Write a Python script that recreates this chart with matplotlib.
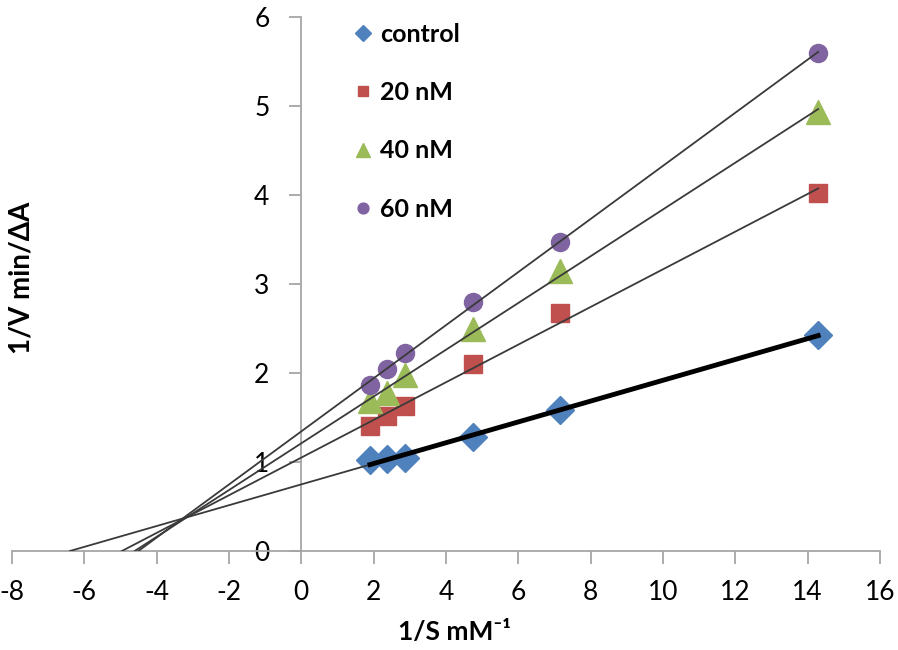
import numpy as np
import matplotlib.pyplot as plt

plt.rcParams['font.family'] = ['Lato', 'DejaVu Sans']
plt.rcParams['axes.unicode_minus'] = False

# 1/S values (mM^-1) and 1/V values (min/dA) per inhibitor level
inv_s = [1.9, 2.38, 2.86, 4.76, 7.14, 14.29]
control = [1.02, 1.03, 1.05, 1.28, 1.58, 2.43]
nm20 = [1.41, 1.52, 1.63, 2.10, 2.67, 4.02]
nm40 = [1.68, 1.78, 1.98, 2.50, 3.15, 4.93]
nm60 = [1.87, 2.05, 2.22, 2.80, 3.47, 5.60]

labels = ['control', '20 nM', '40 nM', '60 nM']
colors = ['#4F81BD', '#C0504D', '#9BBB59', '#8064A2']
markers = ['D', 's', '^', 'o']
sizes = [14, 13, 17, 13]

fig = plt.figure(figsize=(8.98, 6.5), dpi=100)
ax = fig.add_axes([12 / 898, 1 - 551 / 650, 868 / 898, 534 / 650])

x = np.array(inv_s)
for i, ys in enumerate([control, nm20, nm40, nm60]):
    # linear trendline extended back to the x axis
    k, b = np.polyfit(x, ys, 1)
    x0 = -b / k
    ax.plot([x0, x[-1]], [0, k * x[-1] + b], color='#3a3a3a', lw=1.3, zorder=4)
    if i == 0:
        ax.plot([x[0], x[-1]], [k * x[0] + b, k * x[-1] + b], color='black', lw=3.5, zorder=4)
    ax.plot(x, ys, linestyle='none', marker=markers[i], ms=sizes[i], color=colors[i],
            markeredgecolor=colors[i], label=labels[i], zorder=3, clip_on=False)

ax.set_xlim(-8, 16)
ax.set_ylim(0, 6)
ax.spines['left'].set_position(('data', 0))
ax.spines['bottom'].set_position(('data', 0))
ax.spines['right'].set_visible(False)
ax.spines['top'].set_visible(False)
for s in ['left', 'bottom']:
    ax.spines[s].set_color('#a6a6a6')
    ax.spines[s].set_linewidth(1.3)
ax.set_xticks(np.arange(-8, 17, 2))
ax.set_yticks(np.arange(0, 7, 1))
ax.tick_params(direction='out', length=9, width=1.3, color='#a6a6a6', labelsize=19, pad=12)
ax.tick_params(axis='y', pad=14)
ax.patch.set_alpha(0)

fig.text(454 / 898, 1 - 632 / 650, '1/S mM⁻¹', ha='center', va='center',
         fontsize=19, fontweight='bold')
fig.text(22 / 898, 1 - 278 / 650, '1/V min/ΔA', ha='center', va='center', rotation=90,
         fontsize=20, fontweight='bold')

leg = ax.legend(loc='upper left', bbox_to_anchor=(336 / 898 - 12 / 898, 1 + 17 / 534),
                frameon=False, markerscale=0.6, handletextpad=0.1, handlelength=1.2,
                labelspacing=1.42, prop={'size': 18, 'weight': 'bold'})

fig.savefig('out.png', dpi=100)
